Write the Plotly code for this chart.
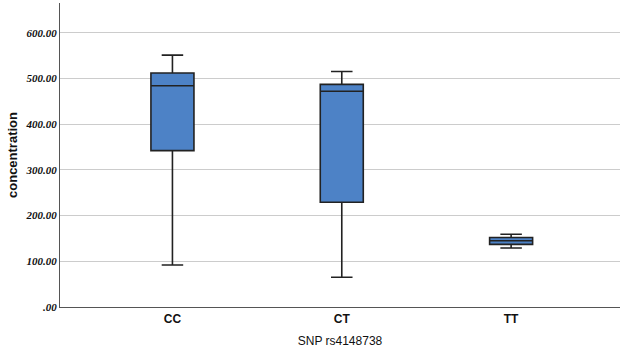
import plotly.graph_objects as go

categories = ["CC", "CT", "TT"]
lower_whisker = [92, 65, 129]
q1_vals = [342, 229, 137]
median_vals = [484, 472, 145]
q3_vals = [512, 487, 152]
upper_whisker = [551, 515, 159]

y_tick_vals = [0, 100, 200, 300, 400, 500, 600]
y_tick_text = [".00", "100.00", "200.00", "300.00", "400.00", "500.00", "600.00"]

fig = go.Figure()
fig.add_trace(go.Box(
    x=categories,
    q1=q1_vals,
    median=median_vals,
    q3=q3_vals,
    lowerfence=lower_whisker,
    upperfence=upper_whisker,
    fillcolor="#4d82c6",
    line=dict(color="#222222", width=1.6),
    width=0.254,
    whiskerwidth=0.5,
    boxpoints=False,
    showlegend=False,
    hoverinfo="skip",
))

fig.update_layout(
    width=626, height=350,
    margin=dict(l=60, r=6, t=3, b=43),
    paper_bgcolor="white",
    plot_bgcolor="white",
    font=dict(family="Liberation Sans, Arial, sans-serif", color="#111111"),
)
fig.update_xaxes(
    type="category",
    range=[-0.664, 2.643],
    showline=True, linecolor="#555555", linewidth=1.2,
    showgrid=False, ticks="",
    tickfont=dict(size=12, family="Liberation Sans, Arial", weight="bold"),
    title=dict(text="SNP rs4148738", font=dict(size=12), standoff=12),
)
fig.update_yaxes(
    range=[0, 665],
    tickvals=y_tick_vals, ticktext=y_tick_text,
    showline=True, linecolor="#555555", linewidth=1.2,
    showgrid=True, gridcolor="#cccccc", gridwidth=1.2,
    zeroline=False, ticks="",
    tickfont=dict(size=11, family="Liberation Serif, Times New Roman, serif", weight="bold", style="italic"),
    title=dict(text="concentration", font=dict(size=13, weight="bold"), standoff=4),
)
fig.write_html("out.html")
